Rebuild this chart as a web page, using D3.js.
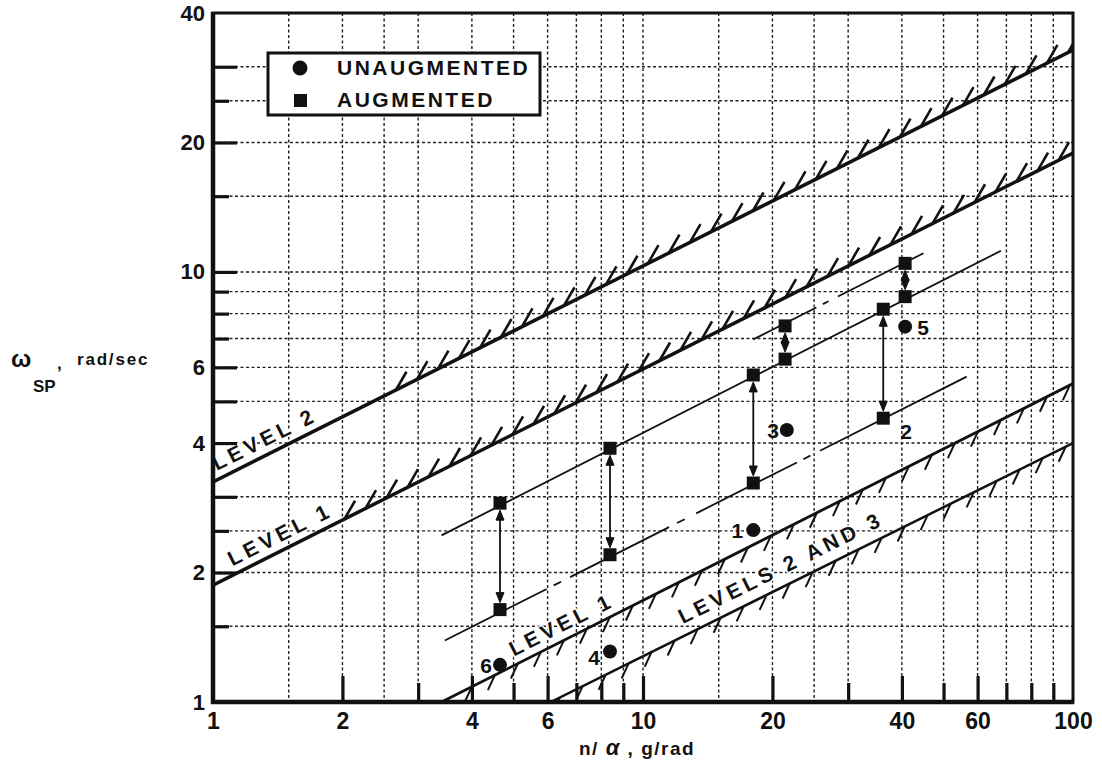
<!DOCTYPE html>
<html>
<head>
<meta charset="utf-8">
<script src="https://cdn.jsdelivr.net/npm/d3@7"></script>
<style>
body { margin: 0; background: #fff; }
svg { display: block; font-family: "Liberation Sans", Arial, sans-serif; font-weight: bold; }
</style>
</head>
<body>
<svg width="1102" height="767"></svg>
<script>
// axis values
const xLabelTicks = [1, 2, 4, 6, 10, 20, 40, 60, 100];
const yLabelTicks = [1, 2, 4, 6, 10, 20, 40];
const xGrid = [1.5, 2, 2.5, 3, 4, 5, 6, 7, 8, 9, 10, 15, 20, 25, 30, 40, 50, 60, 70, 80, 90];
const yGrid = [1.5, 2, 2.5, 3, 4, 5, 6, 7, 8, 9, 10, 15, 20, 25, 30];
const xMajorTicks = [2, 4, 6, 10, 20, 40, 60];
const xMinorTicks = [3, 5, 7, 8, 9, 30, 50, 70, 80, 90];
const yMajorTicks = [2, 3, 4, 5, 6, 10, 20, 30];
const yMinorTicks = [1.5, 2.5, 7, 8, 9, 15, 25];

// level boundaries (end points)
const boundaryLabels = ["LEVEL 2", "LEVEL 1", "LEVEL 1", "LEVELS 2 AND 3"];
const boundaryFrom = [[1, 3.25], [1, 1.87], [3.4, 1], [6.1, 1]];
const boundaryTo = [[100, 32.8], [100, 18.9], [100, 5.5], [100, 4.0]];
const hatchStart = [2.7, 2.05, 4.0, 6.4];
const hatchSide = [1, 1, -1, -1];   // 1 = hatched above, -1 = hatched below
const labelStart = [1.04, 1.13, 5.1, 12.7];

// thin constant-ratio lines, drawn as pieces (x ranges)
const refFrom = [[3.4, 2.44], [3.46, 1.39], [18.05, 6.97]];
const refTo = [[68, 11.2], [56.6, 5.71], [44.9, 11.05]];
const refPieces = [
  [[3.4, 68]],
  [[3.46, 5.97], [6.2, 6.45], [6.77, 11.5], [12.0, 12.5], [13.3, 22.8], [23.6, 24.5], [25.8, 56.6]],
  [[18.05, 25.3], [26.2, 27.0], [28.4, 44.9]]
];

// augmented pairs
const augX = [4.65, 8.38, 18.05, 21.4, 36.2, 40.7];
const augHigh = [2.90, 3.89, 5.76, 7.49, 8.19, 10.47];
const augLow = [1.64, 2.20, 3.23, 6.27, 4.57, 8.76];

// unaugmented points
const unaugId = ["1", "3", "4", "5", "6"];
const unaugX = [18.05, 21.6, 8.38, 40.7, 4.65];
const unaugY = [2.51, 4.29, 1.31, 7.46, 1.22];

// case labels
const caseId = ["1", "2", "3", "4", "5", "6"];
const caseX = [18.05, 36.2, 21.6, 8.38, 40.7, 4.65];
const caseY = [2.51, 4.57, 4.29, 1.31, 7.46, 1.22];

const width = 1102, height = 767;
const pLeft = 213, pRight = 1073, pTop = 13, pBottom = 702;

const x = d3.scaleLog().domain([1, 100]).range([pLeft, pRight]);
const y = d3.scaleLog().domain([1, 40]).range([pBottom, pTop]);

function onLine(p0, p1, xv) {
  const t = (Math.log(xv) - Math.log(p0[0])) / (Math.log(p1[0]) - Math.log(p0[0]));
  return Math.exp(Math.log(p0[1]) + t * (Math.log(p1[1]) - Math.log(p0[1])));
}

const svg = d3.select("svg");
svg.append("rect").attr("width", width).attr("height", height).attr("fill", "#fff");
svg.append("defs").append("clipPath").attr("id", "plot")
  .append("rect")
  .attr("x", pLeft).attr("y", pTop)
  .attr("width", pRight - pLeft).attr("height", pBottom - pTop);

// grid
const grid = svg.append("g")
  .attr("stroke", "#222")
  .attr("stroke-width", 1.4)
  .attr("stroke-dasharray", "3,2.5");
grid.selectAll("line.gx").data(xGrid).join("line")
  .attr("class", "gx")
  .attr("x1", d => x(d)).attr("x2", d => x(d))
  .attr("y1", pTop).attr("y2", pBottom);
grid.selectAll("line.gy").data(yGrid).join("line")
  .attr("class", "gy")
  .attr("x1", pLeft).attr("x2", pRight)
  .attr("y1", d => y(d)).attr("y2", d => y(d));

// thin lines
const refG = svg.append("g").attr("stroke", "#111").attr("stroke-width", 1.8);
refPieces.forEach((pieces, i) => {
  refG.selectAll(null).data(pieces).join("line")
    .attr("x1", s => x(s[0]))
    .attr("y1", s => y(onLine(refFrom[i], refTo[i], s[0])))
    .attr("x2", s => x(s[1]))
    .attr("y2", s => y(onLine(refFrom[i], refTo[i], s[1])));
});

// boundaries with hatching
const lineWidth = [3.5, 3.5, 2.8, 2.5];
boundaryFrom.forEach((p0, i) => {
  const p1 = boundaryTo[i];
  const g = svg.append("g").attr("clip-path", "url(#plot)").attr("stroke", "#111");
  g.append("line")
    .attr("x1", x(p0[0])).attr("y1", y(p0[1]))
    .attr("x2", x(p1[0])).attr("y2", y(p1[1]))
    .attr("stroke-width", lineWidth[i]);

  const up = hatchSide[i] > 0;
  const xs = d3.range(x(hatchStart[i]), pRight, up ? 21 : 23);
  g.selectAll("path").data(xs).join("path")
    .attr("fill", "none")
    .attr("stroke-width", up ? 2.6 : 2)
    .attr("d", xp => {
      const by = y(onLine(p0, p1, x.invert(xp)));
      return up
        ? `M${xp - 3},${by + 2}L${xp + 8},${by - 17}`
        : `M${xp},${by}L${xp - 7},${by + 15}`;
    });

  const ang = Math.atan2(y(p1[1]) - y(p0[1]), x(p1[0]) - x(p0[0]));
  const lx = x(labelStart[i]);
  const ly = y(onLine(p0, p1, labelStart[i]));
  const off = i === 3 ? 11 : 8;
  svg.append("text")
    .attr("transform", `translate(${lx + Math.sin(ang) * off},${ly - Math.cos(ang) * off}) rotate(${ang * 180 / Math.PI})`)
    .attr("font-size", 21)
    .attr("letter-spacing", 4.2)
    .attr("fill", "#111")
    .attr("stroke", "#fff")
    .attr("stroke-width", 3)
    .attr("paint-order", "stroke")
    .text(boundaryLabels[i]);
});

// arrows between augmented pairs
const arrows = svg.append("g").attr("fill", "#111").attr("stroke", "#111");
augX.forEach((xv, i) => {
  const cx = x(xv), y1 = y(augHigh[i]) + 7, y2 = y(augLow[i]) - 7;
  arrows.append("line")
    .attr("x1", cx).attr("x2", cx).attr("y1", y1 + 4).attr("y2", y2 - 4)
    .attr("stroke-width", 1.8);
  arrows.append("path").attr("stroke-width", 1)
    .attr("d", `M${cx},${y1}L${cx - 4},${y1 + 10}L${cx + 4},${y1 + 10}Z`);
  arrows.append("path").attr("stroke-width", 1)
    .attr("d", `M${cx},${y2}L${cx - 4},${y2 - 10}L${cx + 4},${y2 - 10}Z`);
});

// markers
const sq = 13;
svg.append("g").selectAll("rect")
  .data(augX.flatMap((xv, i) => [[xv, augHigh[i]], [xv, augLow[i]]]))
  .join("rect")
  .attr("x", d => x(d[0]) - sq / 2).attr("y", d => y(d[1]) - sq / 2)
  .attr("width", sq).attr("height", sq)
  .attr("fill", "#111");

svg.append("g").selectAll("circle")
  .data(unaugX.map((xv, i) => [xv, unaugY[i]]))
  .join("circle")
  .attr("cx", d => x(d[0])).attr("cy", d => y(d[1]))
  .attr("r", 7)
  .attr("fill", "#111");

// case numbers
const caseOffset = {
  "1": [-10, 8, "end"], "2": [17, 21, "start"], "3": [-8, 8, "end"],
  "4": [-10, 13, "end"], "5": [12, 8, "start"], "6": [-8, 8, "end"]
};
svg.append("g").selectAll("text")
  .data(caseId.map((id, i) => ({ id, xv: caseX[i], yv: caseY[i] })))
  .join("text")
  .attr("x", d => x(d.xv) + caseOffset[d.id][0])
  .attr("y", d => y(d.yv) + caseOffset[d.id][1])
  .attr("text-anchor", d => caseOffset[d.id][2])
  .attr("font-size", 21)
  .attr("fill", "#111")
  .text(d => d.id);

// frame
const frame = svg.append("g").attr("stroke", "#111").attr("fill", "none");
frame.append("rect")
  .attr("x", pLeft).attr("y", pTop)
  .attr("width", pRight - pLeft).attr("height", pBottom - pTop)
  .attr("stroke-width", 3);
frame.append("line").attr("x1", pLeft).attr("x2", pLeft).attr("y1", pTop - 1).attr("y2", pBottom + 2).attr("stroke-width", 4.5);
frame.append("line").attr("x1", pLeft - 2).attr("x2", pRight + 1).attr("y1", pBottom).attr("y2", pBottom).attr("stroke-width", 4.5);

// inward tick marks
function tickAxis(axis, size, g) {
  g.call(axis.tickSize(size).tickFormat(""));
  g.select(".domain").remove();
  g.selectAll(".tick line").attr("stroke", "#111").attr("stroke-width", 3.2);
}
tickAxis(d3.axisBottom(x).tickValues(xMajorTicks), -26, svg.append("g").attr("transform", `translate(0,${pBottom})`));
tickAxis(d3.axisBottom(x).tickValues(xMinorTicks), -19, svg.append("g").attr("transform", `translate(0,${pBottom})`));
tickAxis(d3.axisLeft(y).tickValues(yMajorTicks), -24, svg.append("g").attr("transform", `translate(${pLeft},0)`));
tickAxis(d3.axisLeft(y).tickValues(yMinorTicks), -16, svg.append("g").attr("transform", `translate(${pLeft},0)`));

// tick labels
const xAxisG = svg.append("g").attr("transform", `translate(0,${pBottom})`)
  .call(d3.axisBottom(x).tickValues(xLabelTicks).tickFormat(d3.format("d")).tickSize(0).tickPadding(11));
xAxisG.select(".domain").remove();
xAxisG.selectAll("text").attr("font-size", 23).attr("font-family", "Liberation Sans, Arial, sans-serif").attr("font-weight", "bold").attr("fill", "#111");

const yAxisG = svg.append("g").attr("transform", `translate(${pLeft},0)`)
  .call(d3.axisLeft(y).tickValues(yLabelTicks).tickFormat(d3.format("d")).tickSize(0).tickPadding(8));
yAxisG.select(".domain").remove();
yAxisG.selectAll("text").attr("font-size", 22).attr("font-family", "Liberation Sans, Arial, sans-serif").attr("font-weight", "bold").attr("fill", "#111");

// axis titles
const xt = svg.append("text").attr("x", 579).attr("y", 755).attr("font-size", 19).attr("letter-spacing", 1.5).attr("fill", "#111");
xt.append("tspan").text("n/ ");
xt.append("tspan").attr("font-style", "italic").attr("font-size", 22).text("α");
xt.append("tspan").text("  , g/rad");

svg.append("text").attr("x", 11).attr("y", 367).attr("font-size", 24).attr("fill", "#111").text("ω");
svg.append("text").attr("x", 33).attr("y", 392).attr("font-size", 17).attr("fill", "#111").text("SP");
svg.append("text").attr("x", 57).attr("y", 369).attr("font-size", 17).attr("fill", "#111").text(",");
svg.append("text").attr("x", 77).attr("y", 365).attr("font-size", 17).attr("letter-spacing", 1.8).attr("fill", "#111").text("rad/sec");

// legend
const legend = svg.append("g");
legend.append("rect")
  .attr("x", 268).attr("y", 53).attr("width", 272).attr("height", 62)
  .attr("fill", "#fff").attr("stroke", "#111").attr("stroke-width", 3);
legend.append("circle").attr("cx", 300).attr("cy", 68).attr("r", 7.5).attr("fill", "#111");
legend.append("rect").attr("x", 294).attr("y", 94).attr("width", 13).attr("height", 13).attr("fill", "#111");
legend.selectAll("text").data(["UNAUGMENTED", "AUGMENTED"]).join("text")
  .attr("x", 337).attr("y", (d, i) => 75 + i * 32)
  .attr("font-size", 21).attr("letter-spacing", 2.5).attr("fill", "#111")
  .text(d => d);
</script>
</body>
</html>
